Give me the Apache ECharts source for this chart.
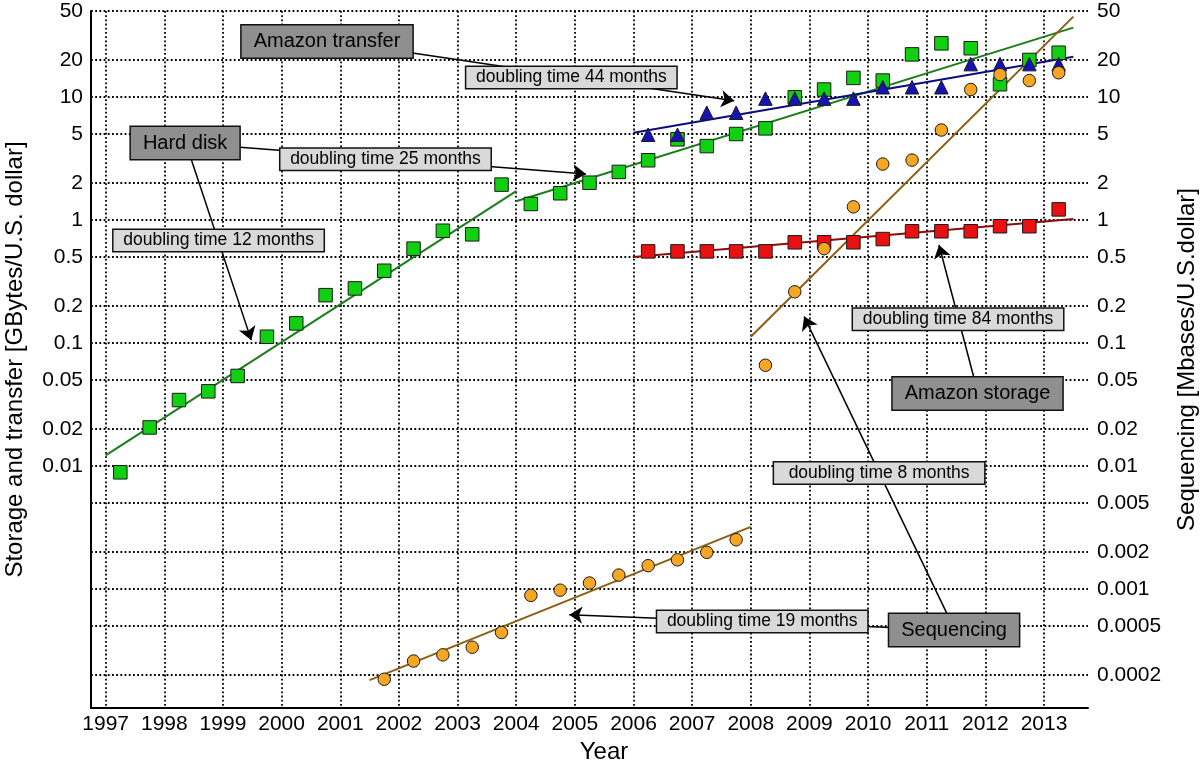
<!DOCTYPE html>
<html><head><meta charset="utf-8">
<script src="https://cdn.jsdelivr.net/npm/echarts@6/dist/echarts.min.js"></script>
<style>html,body{margin:0;padding:0;background:#fff}#c{width:1200px;height:768px}</style>
</head><body><div id="c"></div>
<script>
// ---- data ----
const yearTicks = [1997,1998,1999,2000,2001,2002,2003,2004,2005,2006,2007,2008,2009,2010,2011,2012,2013];
const leftTicks = [50,20,10,5,2,1,0.5,0.2,0.1,0.05,0.02,0.01];
const rightTicks = [50,20,10,5,2,1,0.5,0.2,0.1,0.05,0.02,0.01,0.005,0.002,0.001,0.0005,0.0002];

const hardDiskYears = [1997.25,1997.75,1998.25,1998.75,1999.25,1999.75,2000.25,2000.75,2001.25,2001.75,2002.25,2002.75,2003.25,2003.75,2004.25,2004.75,2005.25,2005.75,2006.25,2006.75,2007.25,2007.75,2008.25,2008.75,2009.25,2009.75,2010.25,2010.75,2011.25,2011.75,2012.25,2012.75,2013.25];
const hardDiskValues = [0.0089,0.0206,0.0344,0.0405,0.054,0.1125,0.1445,0.245,0.278,0.387,0.585,0.818,0.765,1.94,1.35,1.65,2.01,2.46,3.06,4.53,3.99,5.0,5.56,9.94,11.5,14.3,13.6,22.2,27.3,24.9,12.7,20.0,22.9];

const transferYears = [2006.25,2006.75,2007.25,2007.75,2008.25,2008.75,2009.25,2009.75,2010.25,2010.75,2011.25,2011.75,2012.25,2012.75,2013.25];
const transferValues = [4.93,4.93,7.45,7.45,9.7,9.7,9.7,9.7,12.0,12.0,12.0,18.5,18.5,18.5,18.5];

const storageYears = [2006.25,2006.75,2007.25,2007.75,2008.25,2008.75,2009.25,2009.75,2010.25,2010.75,2011.25,2011.75,2012.25,2012.75,2013.25];
const storageValues = [0.556,0.556,0.556,0.556,0.556,0.659,0.659,0.659,0.70,0.81,0.81,0.81,0.89,0.89,1.22];

const seqYears = [2001.75,2002.25,2002.75,2003.25,2003.75,2004.25,2004.75,2005.25,2005.75,2006.25,2006.75,2007.25,2007.75,2008.25,2008.75,2009.25,2009.75,2010.25,2010.75,2011.25,2011.75,2012.25,2012.75,2013.25];
const seqValues = [0.000185,0.00026,0.000292,0.000337,0.000444,0.000889,0.00098,0.00112,0.0013,0.00155,0.00173,0.00199,0.00252,0.066,0.261,0.585,1.28,2.85,3.07,5.39,11.5,15.2,13.6,15.75];

// fitted trend lines: [startYear, startValue, endYear, endValue]
const hardDiskFit12 = [1997.0, 0.0122, 2004.0, 1.72];
const hardDiskFit25 = [2004.0, 1.42, 2013.5, 36.6];
const transferFit44 = [2006.0, 5.13, 2013.5, 21.2];
const storageFit84 = [2006.0, 0.5, 2013.5, 1.02];
const seqFit19 = [2001.5, 0.000182, 2008.0, 0.0032];
const seqFit8 = [2008.0, 0.1125, 2013.5, 45];

// annotations
const boxTexts = ['Amazon transfer','doubling time 44 months','Hard disk','doubling time 25 months','doubling time 12 months','doubling time 84 months','Amazon storage','doubling time 8 months','Sequencing','doubling time 19 months'];
const boxYears = [2000.774,2004.94,1998.355,2001.771,1998.925,2011.534,2011.866,2010.188,2011.466,2008.195];
const boxValues = [28.26,14.4,4.22,3.125,0.681,0.156,0.0388,0.00877,0.000464,0.000545];

const arrowFromYears = [2002.231,1999.295,1998.46,2011.806,2011.341,2010.392];
const arrowFromValues = [22.8,3.91,3.11,0.052,0.000637,0.000488];
const arrowToYears = [2007.717,2005.19,1999.483,2011.21,2008.91,2004.906];
const arrowToValues = [9.34,2.37,0.1056,0.627,0.164,0.00062];

// ---- chart ----
const FONT = "'Liberation Sans', Arial, Helvetica, sans-serif";
const chart = echarts.init(document.getElementById('c'), null, {renderer: 'canvas'});
const zip = (xs, ys) => xs.map((x, i) => [x, ys[i]]);
const fit = f => [[f[0], f[1]], [f[2], f[3]]];
const fmt = v => String(+(+v).toPrecision(3));
const gridLine = {color: '#000', width: 1.8, type: [1.8, 2.4]};

function scatter(name, xs, ys, symbol, size, fill, z) {
  return {type: 'scatter', name, data: zip(xs, ys), symbol, symbolSize: size, z,
    itemStyle: {color: fill, borderColor: '#1a1a1a', borderWidth: 1, opacity: 1}};
}
function fitLine(f, color) {
  return {type: 'line', data: fit(f), showSymbol: false, symbol: 'none', z: 3,
    lineStyle: {color, width: 2}, silent: true};
}

const boxData = boxTexts.map((t, i) => {
  const light = t.startsWith('doubling');
  return {
    value: [boxYears[i], boxValues[i]],
    label: light ? {
      color: '#000', backgroundColor: '#d9d9d9', fontSize: 17.5, width: 210, height: 21, lineHeight: 21, padding: 0
    } : {
      color: '#000', backgroundColor: '#8f8f8f', fontSize: 20, height: 22, lineHeight: 22, padding: [5, 12]
    }
  };
});

chart.setOption({
  animation: false,
  backgroundColor: '#fff',
  grid: {left: 91, right: 112, top: 11, bottom: 60, containLabel: false, outerBoundsMode: 'none'},
  xAxis: {
    type: 'value', min: 1996.75, max: 2013.75,
    name: 'Year', nameLocation: 'middle', nameGap: 30,
    nameTextStyle: {fontFamily: FONT, fontSize: 24, color: '#000', padding: [0, 0, 0, 29]},
    axisLine: {show: true, lineStyle: {color: '#000', width: 2}},
    axisTick: {show: false, customValues: yearTicks},
    axisLabel: {customValues: yearTicks, fontFamily: FONT, fontSize: 21, color: '#000', margin: 6,
      formatter: v => String(Math.round(v))},
    splitLine: {show: true, lineStyle: gridLine}
  },
  yAxis: [{
    type: 'log', logBase: 10, min: 0.000108, max: 50, position: 'left',
    name: 'Storage and transfer [GBytes/U.S. dollar]', nameLocation: 'middle', nameGap: 64, nameRotate: 90,
    nameTextStyle: {fontFamily: FONT, fontSize: 24, color: '#000'},
    axisLine: {show: true, lineStyle: {color: '#000', width: 2}},
    axisTick: {show: false, customValues: rightTicks},
    axisLabel: {customValues: leftTicks, fontFamily: FONT, fontSize: 21, color: '#000', margin: 8, formatter: fmt},
    splitLine: {show: true, lineStyle: gridLine}
  }, {
    type: 'log', logBase: 10, min: 0.000108, max: 50, position: 'right',
    name: 'Sequencing [Mbases/U.S.dollar]', nameLocation: 'middle', nameGap: 87, nameRotate: 90,
    nameTextStyle: {fontFamily: FONT, fontSize: 24, color: '#000'},
    axisLine: {show: false},
    axisTick: {show: false, customValues: rightTicks},
    axisLabel: {customValues: rightTicks, fontFamily: FONT, fontSize: 21, color: '#000', margin: 9, formatter: fmt},
    splitLine: {show: false}
  }],
  series: [
    fitLine(hardDiskFit12, '#1c7d1c'),
    fitLine(hardDiskFit25, '#1c7d1c'),
    fitLine(transferFit44, '#0d0d80'),
    fitLine(storageFit84, '#8f0a0a'),
    Object.assign(fitLine(seqFit19, '#8a5f12'), {yAxisIndex: 1}),
    Object.assign(fitLine(seqFit8, '#8a5f12'), {yAxisIndex: 1}),
    scatter('Hard disk', hardDiskYears, hardDiskValues, 'rect', 13.5, '#11d011', 4),
    scatter('Amazon storage', storageYears, storageValues, 'rect', 13.5, '#e81010', 5),
    scatter('Amazon transfer', transferYears, transferValues, 'triangle', 13.5, '#1414b4', 6),
    Object.assign(scatter('Sequencing', seqYears, seqValues, 'circle', 12.5, '#f5a623', 7), {yAxisIndex: 1}),
    {
      type: 'lines', coordinateSystem: 'cartesian2d', z: 10, silent: true,
      symbol: ['none', 'arrow'], symbolSize: 13,
      lineStyle: {color: '#000', width: 1.5, opacity: 1, curveness: 0},
      data: arrowFromYears.map((x, i) => ({coords: [[x, arrowFromValues[i]], [arrowToYears[i], arrowToValues[i]]]}))
    },
    {
      type: 'scatter', z: 11, symbolSize: 0, silent: true,
      itemStyle: {opacity: 1},
      data: boxData,
      label: {show: true, position: 'inside', formatter: p => boxTexts[p.dataIndex], opacity: 1,
        fontFamily: FONT, color: '#000', textBorderWidth: 0, borderColor: '#111', borderWidth: 1.5,
        align: 'center', verticalAlign: 'middle'}
    }
  ]
});
</script></body></html>
